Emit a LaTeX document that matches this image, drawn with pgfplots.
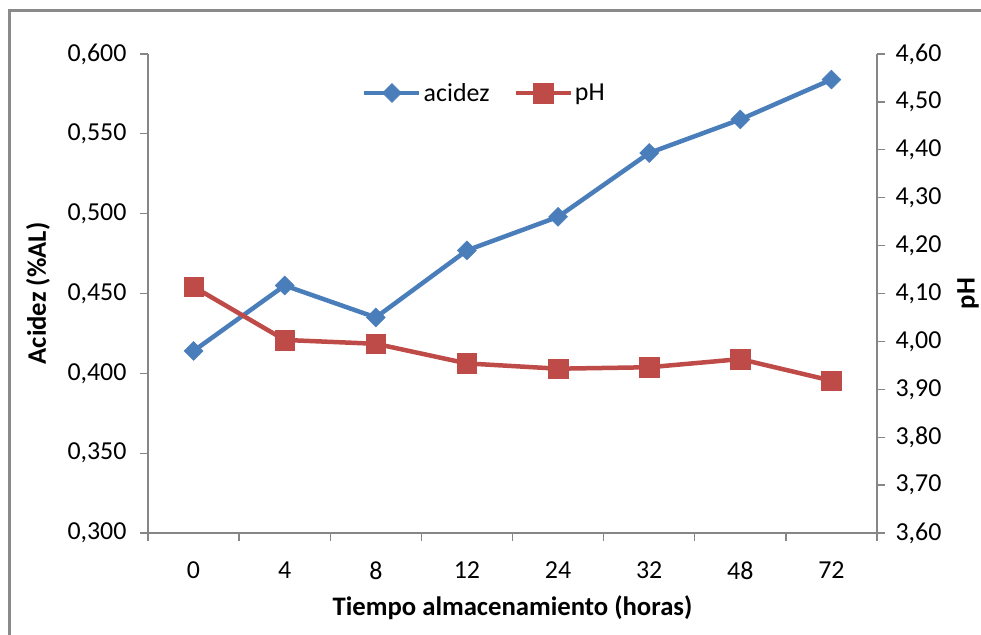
\documentclass[border=0pt]{standalone}
\usepackage{fontspec}
\setmainfont{Carlito}
\usepackage{pgfplots}
\pgfplotsset{compat=1.18}

\definecolor{serieA}{HTML}{4A7EBB}
\definecolor{serieB}{HTML}{BE4B48}
\definecolor{ejes}{HTML}{868686}
\definecolor{marco}{HTML}{8A8A8A}

\newcommand{\fuente}{\fontsize{26}{30}\selectfont}
\newcommand{\fuentetitulo}{\fontsize{26.8}{31}\selectfont}

\pgfplotsset{
  base/.style={
    at={(148bp,102bp)}, anchor=south west,
    scale only axis, width=729bp, height=479bp,
    xmin=-0.5, xmax=7.5,
    tick align=outside, major tick length=8bp,
    every tick/.style={ejes, line width=1.3bp},
    axis line style={ejes, line width=1.3bp},
    tick label style={font=\fuente},
    /pgf/number format/assume math mode=true,
    label style={font=\bfseries\fuentetitulo},
    clip=false,
  },
  linea/.style={line width=4.5bp},
  legend image code/.code={
    \draw[mark repeat=2,mark phase=2,#1]
      plot coordinates {(0bp,0bp) (27.5bp,0bp) (55bp,0bp)};
  },
}

\begin{document}
\begin{tikzpicture}[x=1bp,y=1bp]
\useasboundingbox (0,0) rectangle (981,635);
\draw[marco, line width=2.5bp] (9.7,0) -- (9.7,624.5) -- (981,624.5);

% acidity, left axis
\begin{axis}[base,
  axis x line*=bottom, axis y line*=left,
  ymin=0.3, ymax=0.6,
  ytick={0.300,0.350,0.400,0.450,0.500,0.550,0.600},
  yticklabel style={xshift=-10bp, /pgf/number format/fixed, /pgf/number format/fixed zerofill,
    /pgf/number format/precision=3, /pgf/number format/use comma},
  xtick={-0.5,0.5,1.5,2.5,3.5,4.5,5.5,6.5,7.5},
  xticklabels={0,4,8,12,24,32,48,72},
  x tick label as interval,
  xticklabel style={yshift=-17bp},
  xlabel={Tiempo almacenamiento (horas)},
  xlabel style={at={(axis description cs:0.5,-0.156)}, anchor=center},
  ylabel={Acidez (\%AL)},
  ylabel style={at={(axis description cs:-0.151,0.5)}, anchor=center},
]
\addplot[serieA, linea, mark=square*, mark size=6.7bp,
  mark options={rotate=45, solid, line width=0.5bp}]
  coordinates {(0,0.414) (1,0.455) (2,0.435) (3,0.477)
               (4,0.498) (5,0.538) (6,0.559) (7,0.584)};
\end{axis}

% pH, right axis
\begin{axis}[base,
  axis y line*=right, axis x line=none,
  ymin=3.6, ymax=4.6,
  ytick={3.6,3.7,3.8,3.9,4.0,4.1,4.2,4.3,4.4,4.5,4.6},
  yticklabel style={xshift=7bp, /pgf/number format/fixed, /pgf/number format/fixed zerofill,
    /pgf/number format/precision=2, /pgf/number format/use comma},
  ylabel={pH},
  ylabel style={at={(axis description cs:1.125,0.5)}, anchor=center},
  legend columns=2,
  legend style={draw=none, fill=none, font=\fuente, inner sep=0pt,
    at={(axis description cs:0.2936,0.9186)}, anchor=west,
    /tikz/every even column/.append style={column sep=22bp}},
]
\addlegendimage{serieA, linea, mark=square*, mark size=6.7bp,
  mark options={rotate=45, solid, line width=0.5bp}}
\addlegendentry{acidez}
\addplot[serieB, linea, mark=square*, mark size=9.8bp,
  mark options={solid, line width=0.5bp}]
  coordinates {(0,4.114) (1,4.003) (2,3.995) (3,3.954)
               (4,3.943) (5,3.946) (6,3.963) (7,3.918)};
\addlegendentry{pH}
\end{axis}
\end{tikzpicture}
\end{document}
